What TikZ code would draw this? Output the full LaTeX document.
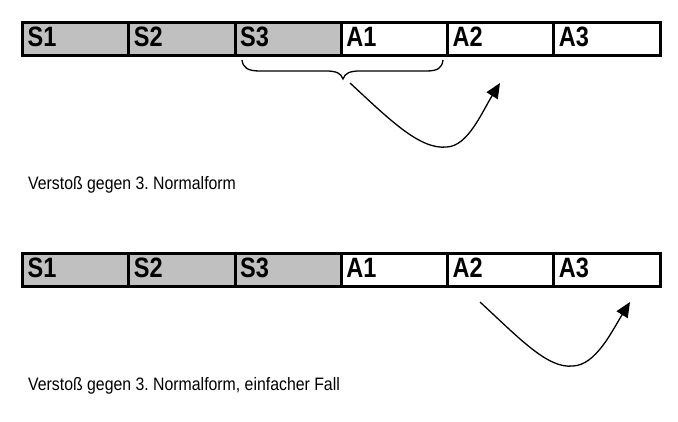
\documentclass[tikz,border=0pt]{standalone}
\usepackage{fontspec}
\setmainfont{Liberation Sans}
\usetikzlibrary{arrows.meta}
\definecolor{cellgray}{HTML}{C0C0C0}
\frenchspacing
\tikzset{
  cellbox/.style={draw=black, line width=3pt, minimum width=106.25pt, minimum height=33pt, inner sep=0pt, outer sep=0pt, anchor=west},
  keycell/.style={cellbox, fill=cellgray},
  attrcell/.style={cellbox, fill=white},
  celltext/.style={anchor=base west, inner sep=0pt, font=\fontsize{28}{30}\selectfont\bfseries},
  captiontext/.style={anchor=base west, inner sep=0pt, font=\fontsize{18}{20}\selectfont},
  depline/.style={line width=1.3pt, -{Triangle[length=15pt,width=13pt]}},
  bracestyle/.style={line width=1.3pt}
}
\newcommand{\narrow}[1]{\scalebox{0.84}[1]{#1}}
\newcommand{\narrowcap}[1]{\scalebox{0.88}[1]{#1}}
\begin{document}
\begin{tikzpicture}[x=1pt,y=-1pt]
\useasboundingbox (0,0) rectangle (678,422);
% top row
\node[keycell] (t1) at (22.5,39) {};
\node[keycell] (t2) at (t1.east) {};
\node[keycell] (t3) at (t2.east) {};
\node[attrcell] (t4) at (t3.east) {};
\node[attrcell] (t5) at (t4.east) {};
\node[attrcell] (t6) at (t5.east) {};
\foreach \n/\l in {t1/S1,t2/S2,t3/S3,t4/A1,t5/A2,t6/A3}
  \node[celltext] (\n lbl) at ([xshift=5pt,yshift=-8pt]\n.west) {\narrow{\l}};
% bottom row
\node[keycell] (b1) at (22.5,270.5) {};
\node[keycell] (b2) at (b1.east) {};
\node[keycell] (b3) at (b2.east) {};
\node[attrcell] (b4) at (b3.east) {};
\node[attrcell] (b5) at (b4.east) {};
\node[attrcell] (b6) at (b5.east) {};
\foreach \n/\l in {b1/S1,b2/S2,b3/S3,b4/A1,b5/A2,b6/A3}
  \node[celltext] (\n lbl) at ([xshift=5pt,yshift=-7.5pt]\n.west) {\narrow{\l}};
% brace under S3 and A1
\coordinate (brL) at (242,60);
\coordinate (brR) at (443,60);
\coordinate (brTip) at (343,79);
\draw[bracestyle] (brL) .. controls (243,68) and (248,71) .. (260,71)
  -- (326,71) .. controls (336,71) and (341,73) .. (brTip)
  .. controls (345,73) and (350,71) .. (360,71)
  -- (426,71) .. controls (438,71) and (442,68) .. (brR);
% top dependency arrow
\coordinate (a1s) at (350,83);
\coordinate (a1m) at (447,147);
\coordinate (a1e) at (500,83);
\draw[depline] (a1s) .. controls (390,120) and (420,150) .. (a1m)
  .. controls (468,146) and (482,112) .. (a1e);
% bottom dependency arrow
\coordinate (a2s) at (480,302);
\coordinate (a2m) at (573,366);
\coordinate (a2e) at (630,302);
\draw[depline] (a2s) .. controls (520,339) and (548,369) .. (a2m)
  .. controls (596,365) and (612,331) .. (a2e);
% captions
\node[captiontext] (cap1) at (28,190) {\narrowcap{Verstoß gegen 3. Normalform}};
\node[captiontext] (cap2) at (28,390) {\narrowcap{Verstoß gegen 3. Normalform, einfacher Fall}};
\end{tikzpicture}
\end{document}
